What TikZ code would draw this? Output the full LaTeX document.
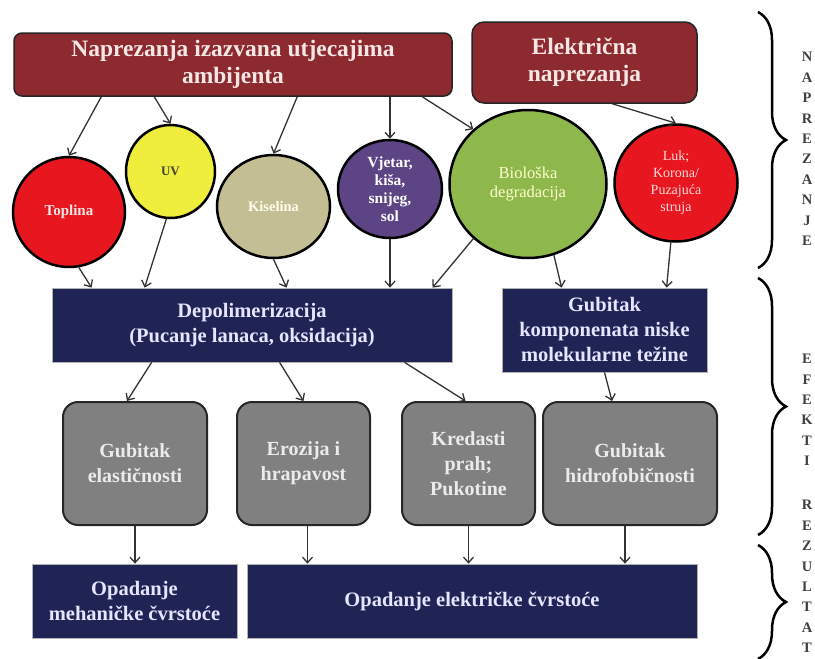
\documentclass[tikz,border=0pt]{standalone}
\usepackage{fontspec}
\setmainfont{Liberation Serif}
\usetikzlibrary{shapes.geometric,arrows.meta,decorations.pathreplacing}
\definecolor{vino}{HTML}{8C2A2F}
\definecolor{roza}{HTML}{F5E6E6}
\definecolor{tamnoplava}{HTML}{1F2455}
\definecolor{siva}{HTML}{808080}
\definecolor{crvena}{HTML}{E8171F}
\definecolor{zuta}{HTML}{F0EE3C}
\definecolor{kaki}{HTML}{C4BE95}
\definecolor{ljubicasta}{HTML}{5C4485}
\definecolor{zelena}{HTML}{8FB84C}

\begin{document}
\begin{tikzpicture}[x=1pt,y=-1pt,>={Straight Barb[length=5.5pt,width=10pt]},
    okvir/.style={draw=black!85,line width=1.5pt,rounded corners=8pt,fill=vino,text=roza,
        font=\bfseries\fontsize{23.5}{27}\selectfont,align=center},
    krug/.style={ellipse,draw=black,line width=2.5pt,inner sep=0pt,align=center},
    plavi/.style={draw=gray!60,line width=0.8pt,fill=tamnoplava,text=white!90!blue,
        font=\bfseries\fontsize{20.5}{25}\selectfont,align=center},
    sivi/.style={draw=black!85,line width=2pt,rounded corners=15pt,fill=siva,text=white!92!black,
        font=\bfseries\fontsize{20}{25}\selectfont,align=center,minimum height=123pt},
    slova/.style={text=black!75,font=\bfseries\fontsize{14.5}{20.4}\selectfont,align=center,inner sep=0pt},
    zagrada/.style={draw=black,decorate,decoration={brace,amplitude=28pt},line width=2.5pt},
    strelica/.style={->,draw=black!80,line width=1.3pt}]

    \fill[white] (0,0) rectangle (815,659);
    \useasboundingbox (0,0) rectangle (815,659);

    \node[okvir,minimum width=438pt,minimum height=63pt] (env) at (233,64.5) {Naprezanja izazvana utjecajima\\ambijenta};
    \node[okvir,rounded corners=12pt,minimum width=225pt,minimum height=81pt] (elec) at (584.5,62.5) {Električna\\naprezanja};

    \node[krug,fill=crvena,text=roza,font=\bfseries\fontsize{15}{18}\selectfont,minimum width=112pt,minimum height=110pt] (top) at (69,212) {Toplina};
    \node[krug,fill=zuta,text=black!75,font=\bfseries\fontsize{13}{16}\selectfont,minimum width=89pt,minimum height=93pt] (uv) at (170.5,171.5) {UV};
    \node[krug,fill=kaki,text=white!92!yellow,font=\bfseries\fontsize{14.5}{17}\selectfont,minimum width=113pt,minimum height=103pt] (kis) at (273.5,206.5) {Kiselina};
    \node[krug,fill=ljubicasta,text=white,font=\bfseries\fontsize{15.5}{18}\selectfont,minimum width=104pt,minimum height=98pt] (vje) at (390,189) {Vjetar,\\kiša,\\snijeg,\\sol};
    \node[krug,fill=zelena,text=yellow!20,font=\fontsize{16.5}{19}\selectfont,minimum width=157pt,minimum height=148pt] (bio) at (528,184) {Biološka\\degradacija};
    \node[krug,fill=crvena,text=red!15,font=\fontsize{14}{17}\selectfont,minimum width=123pt,minimum height=117pt] (luk) at (676,183) {Luk;\\Korona/\\Puzajuća\\struja};

    \node[plavi,minimum width=400pt,minimum height=74pt] (depol) at (252,325) {Depolimerizacija\\(Pucanje lanaca, oksidacija)};
    \node[plavi,minimum width=205pt,minimum height=84pt] (lmw) at (604.5,330) {Gubitak\\komponenata niske\\molekularne težine};

    \node[sivi,minimum width=144pt] (elast) at (135,463.5) {Gubitak\\elastičnosti};
    \node[sivi,minimum width=133pt] (eroz) at (303.5,463.5) {Erozija i\\hrapavost};
    \node[sivi,minimum width=133pt] (kred) at (468.5,463.5) {Kredasti\\prah;\\Pukotine};
    \node[sivi,minimum width=174pt] (hidro) at (630,463.5) {Gubitak\\hidrofobičnosti};

    \node[plavi,minimum width=205pt,minimum height=74pt] (meh) at (134.5,601) {Opadanje\\mehaničke čvrstoće};
    \node[plavi,minimum width=450pt,minimum height=74pt] (elst) at (472,601) {Opadanje električke čvrstoće};

    \draw[strelica] ([xshift=88pt]env.south west) -- (top.north);
    \draw[strelica] ([xshift=141pt]env.south west) -- (uv.north);
    \draw[strelica] ([xshift=284pt]env.south west) -- (kis.north);
    \draw[strelica] (vje.north |- env.south) -- (vje.north);
    \draw[strelica] ([xshift=409pt]env.south west) -- (bio.135);
    \draw[strelica] ([xshift=141pt]elec.south west) -- (luk.north);

    \draw[strelica] (top.-80) -- ([xshift=40pt]depol.north west);
    \draw[strelica] (uv.265) -- ([xshift=93pt]depol.north west);
    \draw[strelica] (kis.south) -- ([xshift=235pt]depol.north west);
    \draw[strelica] (vje.south) -- (vje.south |- depol.north);
    \draw[strelica] (bio.225) -- ([xshift=381pt]depol.north west);
    \draw[strelica] (bio.-70) -- ([xshift=60pt]lmw.north west);
    \draw[strelica] (luk.-95) -- ([xshift=165pt]lmw.north west);

    \draw[strelica] ([xshift=100pt]depol.south west) -- ([xshift=-8pt]elast.north);
    \draw[strelica] ([xshift=228pt]depol.south west) -- (eroz.north);
    \draw[strelica] ([xshift=353pt]depol.south west) -- ([xshift=-3pt]kred.north);
    \draw[strelica] (lmw.south) -- ([xshift=-18pt]hidro.north);

    \draw[strelica] (elast.south) -- (elast.south |- meh.north);
    \draw[strelica] ([xshift=4pt]eroz.south) -- ([xshift=4pt]eroz.south |- elst.north);
    \draw[strelica] (kred.south) -- (kred.south |- elst.north);
    \draw[strelica] ([xshift=-5pt]hidro.south) -- ([xshift=-5pt]hidro.south |- elst.north);

    \draw[zagrada] (758,12) -- (758,268);
    \draw[zagrada] (758,278) -- (758,535);
    \draw[zagrada] (758,545) -- (758,659);

    \node[slova] (naprezanje) at (807,149) {N\\A\\P\\R\\E\\Z\\A\\N\\J\\E};
    \node[slova] (efekti) at (807,410) {E\\F\\E\\K\\T\\I};
    \node[slova] (rezultati) at (807,576.5) {R\\E\\Z\\U\\L\\T\\A\\T};
\end{tikzpicture}
\end{document}
